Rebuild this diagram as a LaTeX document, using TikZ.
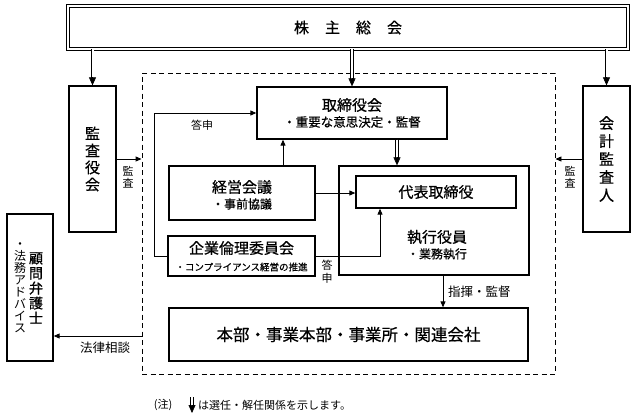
\documentclass[tikz,border=0pt]{standalone}
\usepackage{fontspec}
\setmainfont{Noto Sans CJK JP}
\newfontfamily\jpb{Noto Sans CJK JP}[FakeBold=0.6]
\usetikzlibrary{arrows.meta,calc}
\newcommand\fs[2]{\fontsize{#1}{#2}\selectfont}
\tikzset{
 box/.style={draw, line width=1.3pt, inner sep=0pt, rectangle},
 arr/.style={line width=0.9pt, -{Triangle[length=6pt,width=5pt]}},
 dblline/.style={line width=0.7pt, double distance=2pt, shorten >=6pt},
 dbltip/.style={line width=0.6pt, -{Triangle[length=8pt,width=7pt]}},
 txt/.style={inner sep=0pt, align=center},
}
\newcommand\dblarrow[2]{\draw[dblline] #1 -- #2; \draw[dbltip] #2 ++(0,-8) -- #2;}
\begin{document}
\begin{tikzpicture}[x=1pt,y=-1pt]
\useasboundingbox (0,0) rectangle (636,416);
% top
\node[box, line width=0.8pt, double, double distance=2pt, minimum width=560pt, minimum height=43pt, font=\jpb\fs{15}{15}] (sh) at (348,27.5) {株\hspace{16pt}主\hspace{16pt}総\hspace{16pt}会};
% dashed frame
\node[draw, line width=0.9pt, dash pattern=on 5pt off 3.5pt, inner sep=0pt, minimum width=413pt, minimum height=301pt] (dash) at (348.5,223.5) {};
% side boxes
\node[box, minimum width=47pt, minimum height=146pt, align=center, font=\jpb\fs{15}{17}] (kansa) at (92.5,159) {監\\査\\役\\会};
\node[box, minimum width=47pt, minimum height=146pt, align=center, font=\jpb\fs{15}{18}] (kaikei) at (606.5,159) {会\\計\\監\\査\\人};
\node[box, minimum width=46pt, minimum height=147pt] (komon) at (30,287.5) {};
\node[txt, font=\jpb\fs{14}{15}] (komonA) at (36,288) {顧\\問\\弁\\護\\士};
\node[txt, font=\fs{12}{12}] (komonB) at (20,288) {・\\法\\務\\ア\\ド\\バ\\イ\\ス};
% inner boxes
\node[box, minimum width=190pt, minimum height=52pt] (tori) at (352,113) {};
\node[txt, font=\jpb\fs{15}{15}] (toriA) at (352,105) {取締役会};
\node[txt, font=\jpb\fs{12.5}{12.5}] (toriB) at (352,122) {・重要な意思決定・監督};
\node[box, minimum width=146pt, minimum height=54pt] (keiei) at (242,193) {};
\node[txt, font=\jpb\fs{15}{15}] (keieiA) at (242,187) {経営会議};
\node[txt, font=\jpb\fs{12}{12}] (keieiB) at (242,204) {・事前協議};
\node[box, minimum width=147pt, minimum height=40pt] (rinri) at (241.5,256) {};
\node[txt, font=\jpb\fs{15}{15}] (rinriA) at (241.5,248) {企業倫理委員会};
\node[txt, font=\jpb\fs{9.5}{9.5}] (rinriB) at (241.5,267) {・コンプライアンス経営の推進};
\node[box, minimum width=190pt, minimum height=109pt] (shikko) at (434,220.5) {};
\node[box, minimum width=160pt, minimum height=32pt, font=\jpb\fs{15}{15}] (daihyo) at (436,192) {代表取締役};
\node[txt, font=\jpb\fs{15}{15}] (shikkoA) at (437,237) {執行役員};
\node[txt, font=\jpb\fs{12}{12}] (shikkoB) at (437,254) {・業務執行};
\node[box, minimum width=359pt, minimum height=53pt, font=\jpb\fs{16.5}{16.5}] (honbu) at (348.5,334.5) {本部・事業本部・事業所・関連会社};
% labels
\node[txt, font=\fs{11}{12}] (lk1) at (128,177) {監\\査};
\node[txt, font=\fs{11}{12}] (lk2) at (570,177) {監\\査};
\node[txt, font=\fs{11}{11}] (lt1) at (202,125) {答申};
\node[txt, font=\fs{11}{13}] (lt2) at (327,272) {答\\申};
\node[txt, font=\fs{12.5}{12.5}] (lh) at (105,348) {法律相談};
\node[txt, font=\fs{12.5}{12.5}, anchor=west] (ls) at (448,292) {指揮・監督};
\node[txt, font=\fs{11}{11}] (fn1) at (163,405) {(注)};
\node[txt, font=\fs{11}{11}, anchor=west] (fn2) at (198,405) {は選任・解任関係を示します。};
% helper coordinates
\coordinate (x154) at (154,0);
\coordinate (x283) at (283,0);
\coordinate (x380) at (380,0);
\coordinate (x397) at (397,0);
\coordinate (x443) at (443,0);
\coordinate (y336) at (0,336);
\coordinate (fa) at (192,397);
\coordinate (fb) at (192,413);
% double arrows
\dblarrow{(sh.south -| kansa.north)}{(kansa.north)}
\dblarrow{(sh.south -| tori.north)}{(tori.north)}
\dblarrow{(sh.south -| kaikei.north)}{(kaikei.north)}
\dblarrow{(tori.south -| x397)}{(shikko.north -| x397)}
\dblarrow{(fa)}{(fb)}
% connectors
\draw[arr] (kansa.east) -- (kansa.east -| dash.west);
\draw[arr] (kaikei.west) -- (kaikei.west -| dash.east);
\draw[arr] (dash.west |- y336) -- (komon.east |- y336);
\draw[arr] (rinri.west) -- (rinri.west -| x154) -- (tori.west -| x154) -- (tori.west);
\draw[arr] (keiei.north -| x283) -- (tori.south -| x283);
\draw[arr] (keiei.east) -- (keiei.east -| daihyo.west);
\draw[arr] (rinri.east) -- (rinri.east -| x380) -- (daihyo.south -| x380);
\draw[arr] (shikko.south -| x443) -- (honbu.north -| x443);
\end{tikzpicture}
\end{document}
